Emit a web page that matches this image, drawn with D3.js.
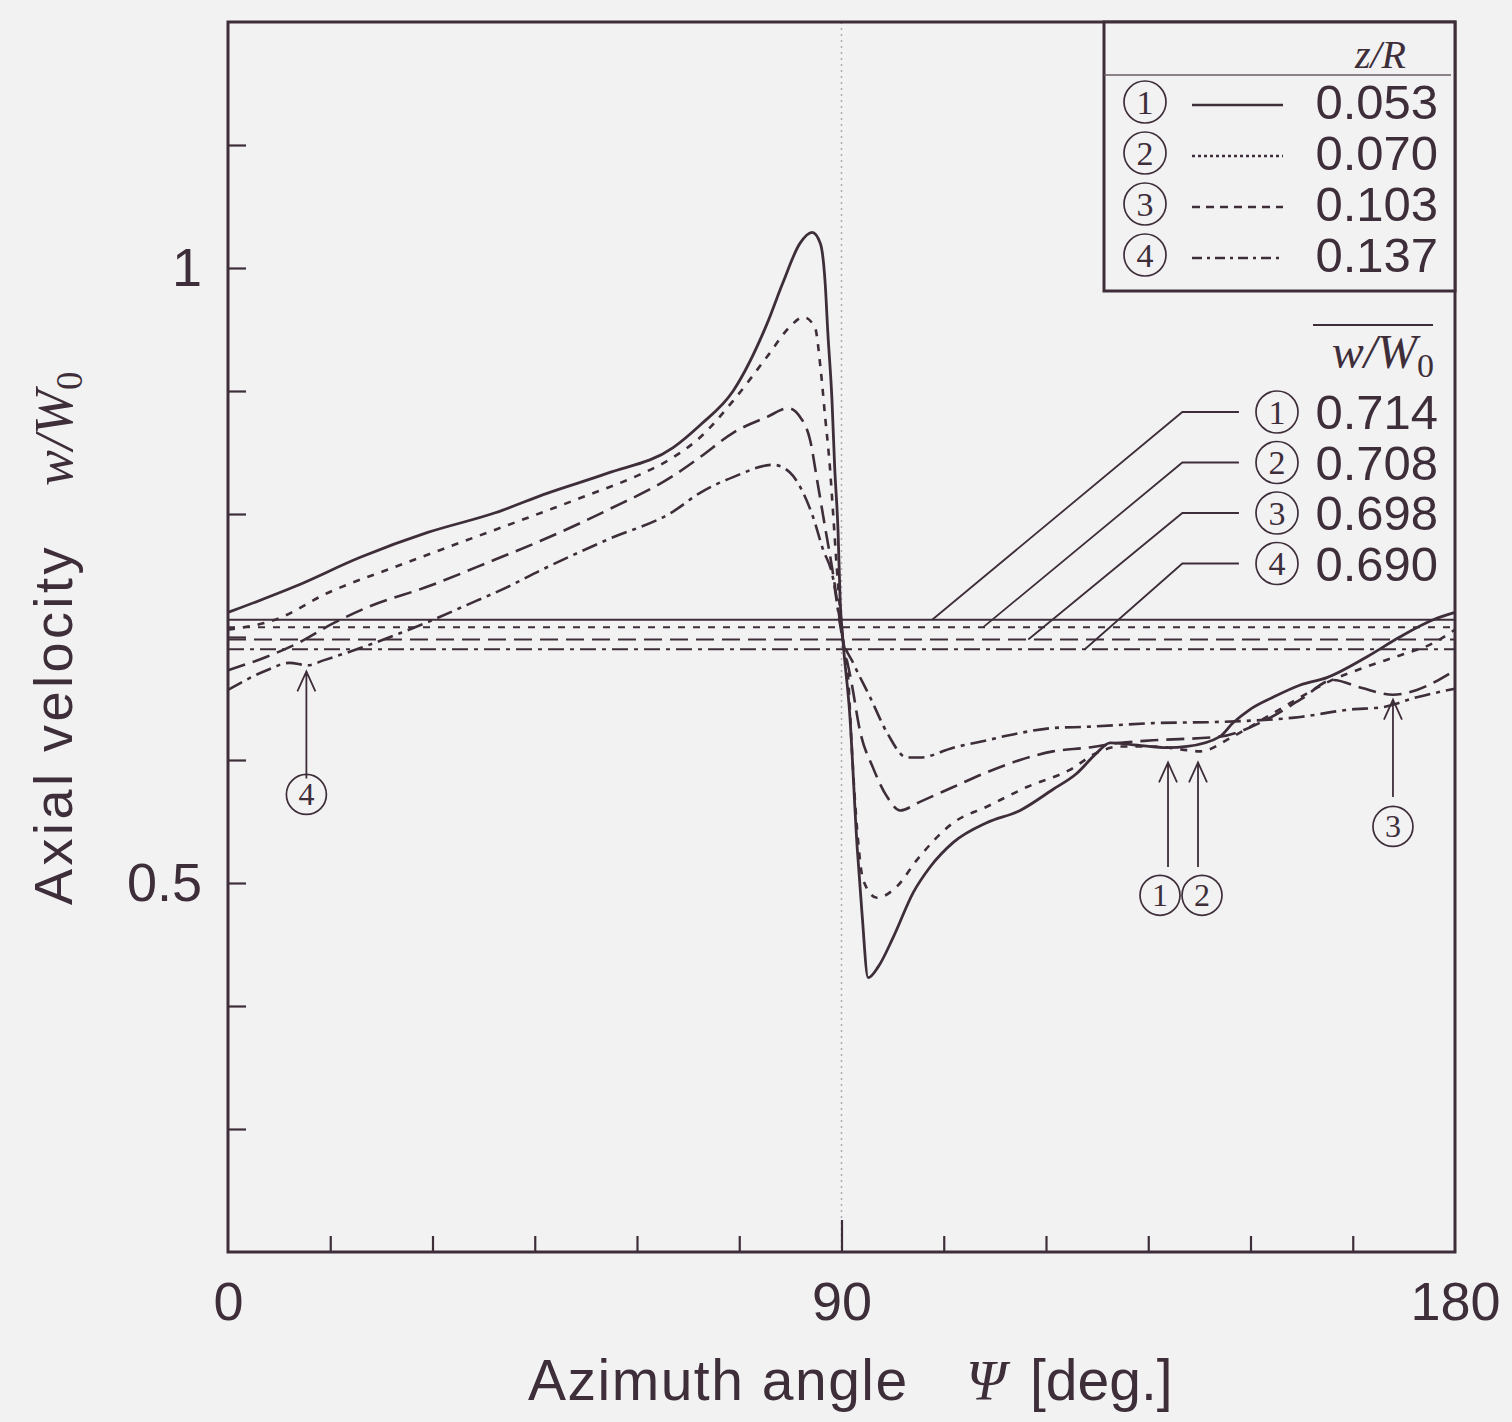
<!DOCTYPE html>
<html>
<head>
<meta charset="utf-8">
<script src="https://cdn.jsdelivr.net/npm/d3@7"></script>
<style>
  body { margin: 0; background: #f2f2f3; }
  svg { display: block; }
</style>
</head>
<body>
<svg id="chart" width="1512" height="1422"></svg>
<script>
// ---- data ----
const psi1 = [0, 9.8, 19.5, 29.3, 39.2, 46.9, 55.6, 65.3, 69.2, 74.1, 79.1, 81.4, 83.9, 85.7, 86.9, 87.6, 88.0, 88.6, 89.0, 89.5, 89.8, 90.2, 91.2, 92.3, 93.0, 93.9, 95.4, 97.6, 100.5, 103.0, 106.4, 111.3, 116.2, 121.0, 124.5, 127.5, 129.4, 133.4, 137.8, 140.7, 145.5, 147.4, 149.9, 153.3, 157.3, 161.2, 167.1, 171.9, 176.8, 180];
const w1 = [0.720, 0.741, 0.765, 0.785, 0.801, 0.817, 0.833, 0.854, 0.872, 0.900, 0.955, 0.988, 1.020, 1.029, 1.020, 0.988, 0.947, 0.893, 0.838, 0.785, 0.730, 0.698, 0.638, 0.529, 0.476, 0.423, 0.432, 0.456, 0.492, 0.513, 0.533, 0.549, 0.559, 0.576, 0.589, 0.606, 0.614, 0.612, 0.610, 0.611, 0.619, 0.630, 0.641, 0.651, 0.661, 0.667, 0.684, 0.700, 0.714, 0.720];

const psi2 = [0, 6.9, 14.7, 24.5, 34.2, 46.9, 53.1, 60.4, 65.3, 69.2, 74.1, 79.1, 82.4, 84.4, 86.1, 86.9, 87.6, 88.3, 88.8, 89.3, 90.2, 91.0, 91.5, 92.3, 93.2, 95.2, 98.1, 101.1, 106.4, 111.3, 117.2, 123.5, 127.5, 130.9, 135.7, 140.7, 142.6, 147.4, 152.4, 157.3, 161.2, 167.1, 171.9, 176.8, 180];
const w2 = [0.706, 0.714, 0.736, 0.757, 0.777, 0.803, 0.816, 0.832, 0.846, 0.862, 0.892, 0.928, 0.952, 0.960, 0.952, 0.920, 0.879, 0.838, 0.798, 0.757, 0.698, 0.665, 0.611, 0.543, 0.502, 0.488, 0.497, 0.519, 0.549, 0.562, 0.578, 0.592, 0.606, 0.611, 0.611, 0.608, 0.607, 0.619, 0.635, 0.651, 0.663, 0.676, 0.685, 0.695, 0.706];

const psi3 = [0, 5.7, 10.6, 15.4, 20.4, 29.3, 39.2, 45.8, 55.6, 65.3, 69.2, 74.1, 79.1, 82.2, 83.9, 85.4, 86.5, 87.6, 88.6, 90.2, 91.5, 92.7, 94.6, 96.7, 98.6, 101.5, 106.4, 111.3, 116.2, 121.0, 126.0, 130.9, 135.7, 145.5, 152.4, 157.3, 162.1, 166.1, 170.9, 174.4, 180];
const w3 = [0.673, 0.684, 0.696, 0.711, 0.724, 0.741, 0.763, 0.778, 0.803, 0.831, 0.846, 0.866, 0.879, 0.886, 0.879, 0.860, 0.825, 0.789, 0.757, 0.698, 0.662, 0.624, 0.594, 0.570, 0.559, 0.566, 0.578, 0.590, 0.600, 0.607, 0.610, 0.614, 0.616, 0.619, 0.633, 0.649, 0.665, 0.659, 0.653, 0.657, 0.673];

const psi4 = [0, 5.7, 9.0, 11.7, 14.0, 19.4, 25.2, 30.1, 34.2, 41.5, 45.8, 55.6, 65.3, 69.2, 74.1, 80.0, 82.4, 84.4, 85.8, 87.3, 88.6, 90.2, 91.7, 94.2, 96.7, 99.6, 101.5, 106.4, 111.3, 116.2, 121.0, 126.0, 135.7, 145.5, 157.3, 164.6, 169.4, 174.4, 180];
const w4 = [0.657, 0.673, 0.679, 0.677, 0.681, 0.691, 0.703, 0.714, 0.724, 0.742, 0.754, 0.779, 0.802, 0.817, 0.830, 0.840, 0.834, 0.817, 0.798, 0.771, 0.752, 0.698, 0.679, 0.651, 0.622, 0.602, 0.602, 0.610, 0.616, 0.622, 0.626, 0.627, 0.630, 0.631, 0.635, 0.641, 0.643, 0.651, 0.658];

const marks = ["1", "2", "3", "4"]; // drawn as circled numbers
const zR = ["0.053", "0.070", "0.103", "0.137"];
const meanW = [0.714, 0.708, 0.698, 0.690];
const leaderEnds = [103.3, 110.8, 117.4, 125.7]; // where each leader meets its mean line
const arrowAt = [137.9, 142.3, 170.9, 11.5];
const arrowTip = [0.598, 0.598, 0.649, 0.672];
const xTicks = [15, 30, 45, 60, 75, 105, 120, 135, 150, 165];
const xLabels = [0, 90, 180];
const yTicks = [0.3, 0.4, 0.5, 0.6, 0.7, 0.8, 0.9, 1.0, 1.1];
const yLabels = [0.5, 1];

// ---- layout ----
const ink = "#3e2e3a";
const margin = { top: 22, left: 228 };
const width = 1227, height = 1230;
const sans = "'Liberation Sans', Arial, sans-serif";
const serif = "'Liberation Serif', 'Times New Roman', serif";

const dashes = [null, "7,8", "18,8", "16,6,4,6"];
const legendDashes = [null, "3,3", "8,6", "10,5,3,5"];

const svg = d3.select("#chart");
const g = svg.append("g").attr("transform", `translate(${margin.left},${margin.top})`);

const x = d3.scaleLinear().domain([0, 180]).range([0, width]);
const y = d3.scaleLinear().domain([0.2, 1.2]).range([height, 0]);

// circled number: thin ring + serif digit
function circled(sel, cx, cy, r, digit) {
  const c = sel.append("g").attr("transform", `translate(${cx},${cy})`);
  c.append("circle").attr("r", r).attr("fill", "none").attr("stroke", ink).attr("stroke-width", 1.7);
  c.append("text").attr("text-anchor", "middle").attr("dy", "0.34em")
    .attr("fill", ink).style("font-family", serif).style("font-size", `${Math.round(r * 1.6)}px`)
    .text(digit);
}

// dotted guide at 90 deg
g.append("line")
  .attr("x1", x(90)).attr("x2", x(90)).attr("y1", 0).attr("y2", height)
  .attr("stroke", "#b0aab0").attr("stroke-width", 1.5).attr("stroke-dasharray", "2,4");

// ticks
const bx = g.append("g").attr("transform", `translate(0,${height})`)
  .call(d3.axisBottom(x).tickValues(xTicks).tickSize(-16).tickFormat(""));
const bx2 = g.append("g").attr("transform", `translate(0,${height})`)
  .call(d3.axisBottom(x).tickValues([90]).tickSize(-32).tickFormat(""));
const ly = g.append("g")
  .call(d3.axisLeft(y).tickValues(yTicks).tickSize(-18).tickFormat(""));
[bx, bx2, ly].forEach(a => {
  a.select(".domain").remove();
  a.selectAll("line").attr("stroke", ink).attr("stroke-width", 2.2);
});

// tick labels
const xl = g.append("g").attr("transform", `translate(0,${height})`)
  .call(d3.axisBottom(x).tickValues(xLabels).tickSize(0).tickPadding(68).tickFormat(d3.format("d")));
const yl = g.append("g")
  .call(d3.axisLeft(y).tickValues(yLabels).tickSize(0).tickPadding(26).tickFormat(d => d === 1 ? "1" : "0.5"));
[xl, yl].forEach(a => {
  a.select(".domain").remove();
  a.selectAll("text").attr("fill", ink).style("font-family", sans).style("font-size", "54px");
});
xl.selectAll("text").attr("dy", 0);

// mean lines
meanW.forEach((m, i) => {
  g.append("line")
    .attr("x1", 0).attr("x2", width).attr("y1", y(m)).attr("y2", y(m))
    .attr("stroke", ink).attr("stroke-width", 2)
    .attr("stroke-dasharray", dashes[i]);
});

// curves
const series = [[psi1, w1], [psi2, w2], [psi3, w3], [psi4, w4]];
const line = d3.line().x(d => x(d[0])).y(d => y(d[1])).curve(d3.curveMonotoneX);
series.forEach(([ps, ws], i) => {
  g.append("path")
    .datum(ps.map((p, k) => [p, ws[k]]))
    .attr("fill", "none").attr("stroke", ink)
    .attr("stroke-width", i === 0 ? 2.8 : 2.6)
    .attr("stroke-dasharray", dashes[i])
    .attr("d", line);
});

// frame
g.append("rect").attr("width", width).attr("height", height)
  .attr("fill", "none").attr("stroke", ink).attr("stroke-width", 3);

// legend box (z/R)
const lg = g.append("g");
lg.append("rect").attr("x", 876).attr("y", 0).attr("width", width - 876).attr("height", 269)
  .attr("fill", "#f2f2f3").attr("stroke", ink).attr("stroke-width", 3);
lg.append("line").attr("x1", 876).attr("x2", width - 4).attr("y1", 53).attr("y2", 53)
  .attr("stroke", "#6a5a66").attr("stroke-width", 1.5);
lg.append("text").attr("x", 1178).attr("y", 46).attr("text-anchor", "end")
  .attr("fill", ink).style("font-family", serif).style("font-style", "italic").style("font-size", "40px")
  .text("z/R");
zR.forEach((v, i) => {
  const cy = 80 + i * 51;
  circled(lg, 917, cy, 21, marks[i]);
  lg.append("line").attr("x1", 964).attr("x2", 1055).attr("y1", cy + 3).attr("y2", cy + 3)
    .attr("stroke", ink).attr("stroke-width", 2.4).attr("stroke-dasharray", legendDashes[i]);
  lg.append("text").attr("x", 1210).attr("y", cy + 17).attr("text-anchor", "end")
    .attr("fill", ink).style("font-family", sans).style("font-size", "49px").text(v);
});

// mean value block
const mg = g.append("g");
mg.append("line").attr("x1", 1085).attr("x2", 1205).attr("y1", 303).attr("y2", 303)
  .attr("stroke", ink).attr("stroke-width", 1.8);
const mt = mg.append("text").attr("x", 1206).attr("y", 346).attr("text-anchor", "end")
  .attr("fill", ink).style("font-family", serif).style("font-style", "italic").style("font-size", "48px");
mt.append("tspan").text("w/W");
mt.append("tspan").attr("dy", 9).style("font-style", "normal").style("font-size", "34px").text("0");
meanW.forEach((m, i) => {
  const cy = 390 + i * 50.5;
  circled(mg, 1049, cy, 21, marks[i]);
  mg.append("text").attr("x", 1210).attr("y", cy + 17).attr("text-anchor", "end")
    .attr("fill", ink).style("font-family", sans).style("font-size", "49px").text(d3.format(".3f")(m));
  mg.append("path")
    .attr("d", `M${x(148.3)},${cy}H${x(140)}L${x(leaderEnds[i])},${y(m)}`)
    .attr("fill", "none").attr("stroke", ink).attr("stroke-width", 1.8);
});

// arrows pointing to local features
const arrowLen = [0.085, 0.085, 0.079, 0.087];
const labelGap = [0.108, 0.108, 0.103, 0.1];
const labelShift = [-8, 4, 0, 0];
arrowAt.forEach((a, i) => {
  const ax = x(a), ty = y(arrowTip[i]), by = y(arrowTip[i] - arrowLen[i]);
  g.append("path")
    .attr("d", `M${ax},${by}V${ty}M${ax - 9},${ty + 20}L${ax},${ty}L${ax + 9},${ty + 20}`)
    .attr("fill", "none").attr("stroke", ink).attr("stroke-width", 1.8);
  circled(g, ax + labelShift[i], y(arrowTip[i] - labelGap[i]), 20, marks[i]);
});

// axis titles
const xt = svg.append("text").attr("y", 1400)
  .attr("fill", ink).style("font-family", sans).style("font-size", "57px");
xt.append("tspan").attr("x", 528).style("letter-spacing", "1.5px").text("Azimuth angle");
xt.append("tspan").attr("x", 966).style("font-family", serif).style("font-style", "italic").text("Ψ");
xt.append("tspan").attr("x", 1030).text("[deg.]");

const yt = svg.append("text").attr("transform", "translate(72,0) rotate(-90)")
  .attr("fill", ink).style("font-family", sans).style("font-size", "54px");
yt.append("tspan").attr("x", -905).style("letter-spacing", "3.5px").text("Axial velocity");
yt.append("tspan").attr("x", -486).style("font-family", serif).style("font-style", "italic").style("font-size", "54px").text("w/W");
yt.append("tspan").attr("dy", 10).style("font-family", serif).style("font-size", "37px").text("0");
</script>
</body>
</html>
